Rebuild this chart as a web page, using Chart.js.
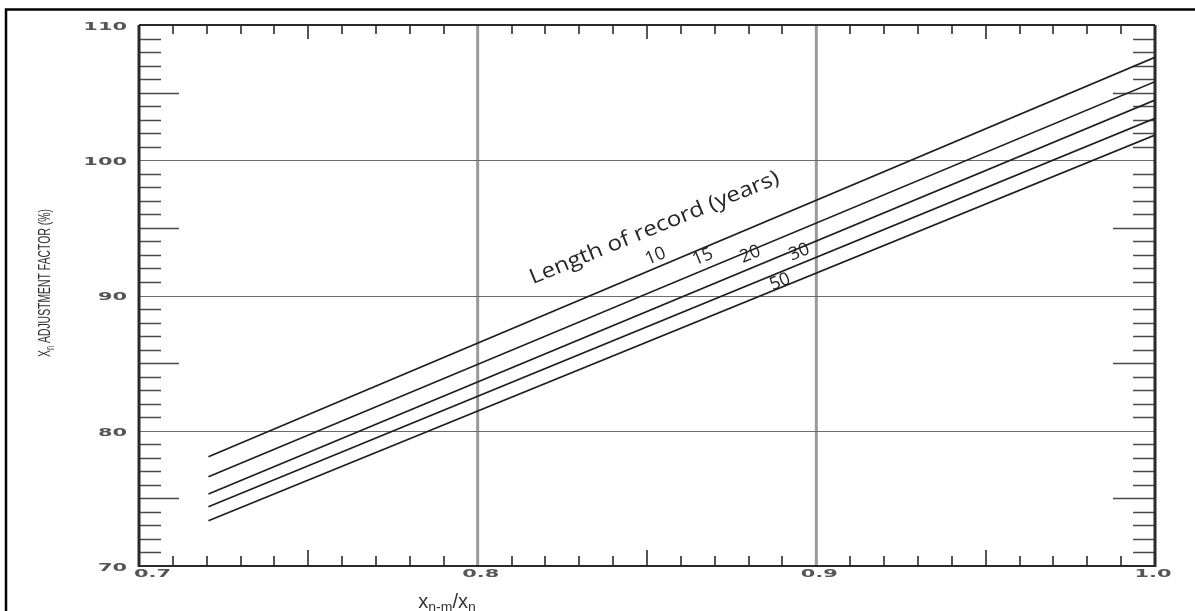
<!DOCTYPE html>
<html>
<head>
<meta charset="utf-8">
<script src="https://cdn.jsdelivr.net/npm/chart.js@4"></script>
<style>
html,body{margin:0;padding:0;background:#fff;}
canvas{display:block;}
</style>
</head>
<body>
<canvas id="c" width="1195" height="611" style="width:1195px;height:611px"></canvas>
<script>
// ---- data ----
const xPoints = [0.7205, 1.0];
const rec10 = [78.08, 107.61];
const rec15 = [76.60, 105.81];
const rec20 = [75.32, 104.45];
const rec30 = [74.38, 103.10];
const rec50 = [73.35, 101.87];
const seriesNames = ['10', '15', '20', '30', '50'];
const xTicks = [0.7, 0.8, 0.9, 1.0];
const xTickLabels = ['0.7', '0.8', '0.9', '1.0'];
const yTicks = [70, 80, 90, 100, 110];
const yTickLabels = ['70', '80', '90', '100', '110'];
const xGrid = [0.8, 0.9];
const yGrid = [80, 90, 100];
// label anchor positions in data units
const labelX = [0.8525, 0.8665, 0.8805, 0.8950, 0.8893];
const labelY = [92.9, 92.85, 93.05, 93.2, 91.0];
const titleAnchor = [0.8522, 95.0];

const allSeries = [rec10, rec15, rec20, rec30, rec50];

const drawPlugin = {
  id: 'paper',
  beforeDatasetsDraw(chart) {
    const ctx = chart.ctx, xs = chart.scales.x, ys = chart.scales.y;
    const L = xs.getPixelForValue(0.7), R = xs.getPixelForValue(1.0);
    const T = ys.getPixelForValue(110), B = ys.getPixelForValue(70);
    ctx.save();
    ctx.strokeStyle = '#9a9a9a'; ctx.lineWidth = 3;
    xGrid.forEach(v => { const p = xs.getPixelForValue(v); ctx.beginPath(); ctx.moveTo(p, T); ctx.lineTo(p, B); ctx.stroke(); });
    ctx.strokeStyle = '#6a6a6a'; ctx.lineWidth = 1;
    yGrid.forEach(v => { const p = Math.round(ys.getPixelForValue(v)) + 0.5; ctx.beginPath(); ctx.moveTo(L, p); ctx.lineTo(R, p); ctx.stroke(); });
    ctx.strokeStyle = '#4a4a4a'; ctx.lineWidth = 1.5;
    for (let v = 71; v < 110; v++) {
      if (v % 10 === 0) continue;
      const p = Math.round(ys.getPixelForValue(v)) + 0.5;
      const lenL = (v % 5 === 0) ? 40 : 22;
      const lenR = (v % 5 === 0) ? 42 : 22;
      ctx.beginPath(); ctx.moveTo(L, p); ctx.lineTo(L + lenL, p); ctx.stroke();
      ctx.beginPath(); ctx.moveTo(R, p); ctx.lineTo(R - lenR, p); ctx.stroke();
    }
    ctx.strokeStyle = '#555'; ctx.lineWidth = 2;
    for (let i = 71; i < 100; i++) {
      if (i % 10 === 0) continue;
      const p = Math.round(xs.getPixelForValue(i / 100));
      const big = (i % 5 === 0);
      ctx.beginPath(); ctx.moveTo(p, B); ctx.lineTo(p, B - (big ? 16 : 10)); ctx.stroke();
      ctx.beginPath(); ctx.moveTo(p, T); ctx.lineTo(p, T + (big ? 14 : 9)); ctx.stroke();
    }
    ctx.strokeStyle = '#2a2a2a';
    ctx.lineWidth = 3;
    ctx.beginPath(); ctx.moveTo(L, T); ctx.lineTo(L, B + 1); ctx.stroke();
    ctx.beginPath(); ctx.moveTo(R, T); ctx.lineTo(R, B + 1); ctx.stroke();
    ctx.lineWidth = 2;
    ctx.beginPath(); ctx.moveTo(L, T); ctx.lineTo(R, T); ctx.stroke();
    ctx.beginPath(); ctx.moveTo(L, B); ctx.lineTo(R, B); ctx.stroke();
    ctx.restore();
  },
  afterDraw(chart) {
    const ctx = chart.ctx, xs = chart.scales.x, ys = chart.scales.y;
    ctx.save();
    ctx.strokeStyle = '#000'; ctx.lineWidth = 2.5;
    ctx.beginPath(); ctx.moveTo(6, 611); ctx.lineTo(6, 9.5); ctx.lineTo(1195, 9.5); ctx.stroke();

    const stretch = 1.9;
    ctx.fillStyle = '#555';
    ctx.font = 'bold 11px "DejaVu Sans"';
    ctx.textBaseline = 'middle';
    function wide(text, x, y, align) {
      const w = ctx.measureText(text).width * stretch;
      let x0 = x;
      if (align === 'right') x0 = x - w;
      else if (align === 'center') x0 = x - w / 2;
      ctx.save(); ctx.translate(x0, y); ctx.scale(stretch, 1);
      ctx.textAlign = 'left'; ctx.fillText(text, 0, 0); ctx.restore();
    }
    yTicks.forEach((v, i) => wide(yTickLabels[i], 127, ys.getPixelForValue(v) + 2, 'right'));
    xTicks.forEach((v, i) => {
      const p = xs.getPixelForValue(v);
      if (i === 0) wide(xTickLabels[i], p - 5, 574, 'left');
      else if (i === xTicks.length - 1) wide(xTickLabels[i], p - 2, 574, 'center');
      else wide(xTickLabels[i], p + 3, 574, 'center');
    });

    // y-axis title (condensed, rotated)
    ctx.save();
    ctx.translate(44, 283);
    ctx.rotate(-Math.PI / 2);
    ctx.fillStyle = '#2e2e2e';
    ctx.textBaseline = 'alphabetic';
    ctx.textAlign = 'left';
    const f1 = '17px "Liberation Sans"', f2 = '12px "Liberation Sans"';
    const p1 = 'X', p2 = 'n', p3 = ' ADJUSTMENT FACTOR (%)';
    ctx.font = f1; const w1 = ctx.measureText(p1).width, w3 = ctx.measureText(p3).width;
    ctx.font = f2; const w2 = ctx.measureText(p2).width;
    const tot = w1 + w2 + w3, target = 148, sx = target / tot;
    ctx.scale(sx, 1);
    let cx = -tot / 2;
    ctx.font = f1; ctx.fillText(p1, cx, 6); cx += w1;
    ctx.font = f2; ctx.fillText(p2, cx, 10); cx += w2;
    ctx.font = f1; ctx.fillText(p3, cx, 6);
    ctx.restore();

    // x-axis title  x_{n-m}/x_n
    ctx.save();
    ctx.fillStyle = '#333';
    ctx.textBaseline = 'alphabetic';
    ctx.textAlign = 'left';
    const parts = [['x', '20px "Liberation Sans"', 0], ['n-m', '14px "Liberation Sans"', 4], ['/x', '20px "Liberation Sans"', 0], ['n', '14px "Liberation Sans"', 4]];
    let tw = 0; parts.forEach(p => { ctx.font = p[1]; tw += ctx.measureText(p[0]).width; });
    let px = 447 - tw / 2;
    parts.forEach(p => { ctx.font = p[1]; ctx.fillText(p[0], px, 608 + p[2]); px += ctx.measureText(p[0]).width; });
    ctx.restore();

    // rotated annotations
    const a0x = xs.getPixelForValue(xPoints[0]), a0y = ys.getPixelForValue(rec10[0]);
    const a1x = xs.getPixelForValue(xPoints[1]), a1y = ys.getPixelForValue(rec10[1]);
    const ang = Math.atan2(a1y - a0y, a1x - a0x) + 0.01;
    ctx.fillStyle = '#262626';
    ctx.textAlign = 'center';
    ctx.textBaseline = 'middle';
    ctx.save();
    ctx.translate(xs.getPixelForValue(titleAnchor[0]), ys.getPixelForValue(titleAnchor[1]));
    ctx.rotate(ang);
    ctx.font = '21px "Open Sans"';
    const tW = ctx.measureText('Length of record (years)').width;
    ctx.scale(268 / tW, 1);
    ctx.fillText('Length of record (years)', 0, 0);
    ctx.restore();
    seriesNames.forEach((n, i) => {
      ctx.save();
      ctx.translate(xs.getPixelForValue(labelX[i]), ys.getPixelForValue(labelY[i]));
      ctx.rotate(ang);
      ctx.font = '18px "Open Sans"';
      ctx.fillText(n, 0, 0);
      ctx.restore();
    });
    ctx.restore();
  }
};

new Chart(document.getElementById('c'), {
  type: 'line',
  data: {
    datasets: allSeries.map((s, i) => ({
      label: seriesNames[i],
      data: xPoints.map((x, j) => ({ x: x, y: s[j] })),
      borderColor: '#1e1e1e',
      borderWidth: 1.7,
      pointRadius: 0,
      tension: 0,
      fill: false
    }))
  },
  options: {
    responsive: false,
    animation: false,
    devicePixelRatio: 1,
    layout: { padding: { left: 139, right: 40, top: 25, bottom: 45 } },
    plugins: { legend: { display: false }, tooltip: { enabled: false } },
    scales: {
      x: { type: 'linear', min: 0.7, max: 1.0, display: false },
      y: { type: 'linear', min: 70, max: 110, display: false }
    }
  },
  plugins: [drawPlugin]
});
</script>
</body>
</html>
